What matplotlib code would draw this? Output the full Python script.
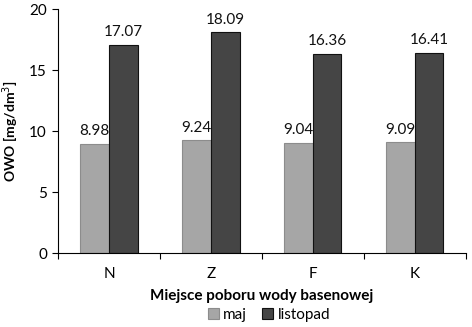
import numpy as np
import matplotlib
matplotlib.use("Agg")
import matplotlib.pyplot as plt

plt.rcParams["font.family"] = ["Lato", "DejaVu Sans"]

# data
sites = ["N", "Z", "F", "K"]
maj = [8.98, 9.24, 9.04, 9.09]
listopad = [17.07, 18.09, 16.36, 16.41]

fig = plt.figure(figsize=(4.72, 3.27), dpi=100)
ax = fig.add_axes([0.123, 0.226, 0.864, 0.746])

x = np.arange(len(sites))
w = 0.28
b1 = ax.bar(x - w / 2, maj, w, color="#a6a6a6", edgecolor="#8c8c8c", linewidth=0.8, label="maj")
b2 = ax.bar(x + w / 2, listopad, w, color="#454545", edgecolor="#111111", linewidth=0.8, label="listopad")

for bars, vals in [(b1, maj), (b2, listopad)]:
    for r, v in zip(bars, vals):
        ax.text(r.get_x() + r.get_width() / 2, v + 0.45, f"{v:.2f}",
                ha="center", va="bottom", fontsize=11, color="#111111")

ax.set_xlim(-0.5, len(sites) - 0.5)
ax.set_ylim(0, 20)
ax.set_yticks([0, 5, 10, 15, 20])
ax.set_xticks(x)
ax.set_xticklabels(sites)
ax.set_xticks(np.arange(len(sites) + 1) - 0.5, minor=True)
ax.tick_params(axis="x", which="major", length=0, pad=10, labelsize=11)
ax.tick_params(axis="x", which="minor", length=4, width=0.8, direction="out")
ax.tick_params(axis="y", length=4, width=0.8, labelsize=11, pad=4)

for s in ["top", "right"]:
    ax.spines[s].set_visible(False)
ax.spines["left"].set_linewidth(0.8)
ax.spines["bottom"].set_linewidth(0.8)

ax.set_ylabel("OWO [mg/dm$^3$]", fontsize=10, fontweight="bold", labelpad=6)
ax.set_xlabel("Miejsce poboru wody basenowej", fontsize=11, fontweight="bold", labelpad=6)

fig.legend(handles=[b1, b2], loc="center", bbox_to_anchor=(0.57, 0.038), ncol=2, frameon=False,
           fontsize=11, handlelength=0.7, handleheight=0.7, handletextpad=0.3,
           columnspacing=1.0, borderpad=0.2)

fig.savefig("out.png", dpi=100)
